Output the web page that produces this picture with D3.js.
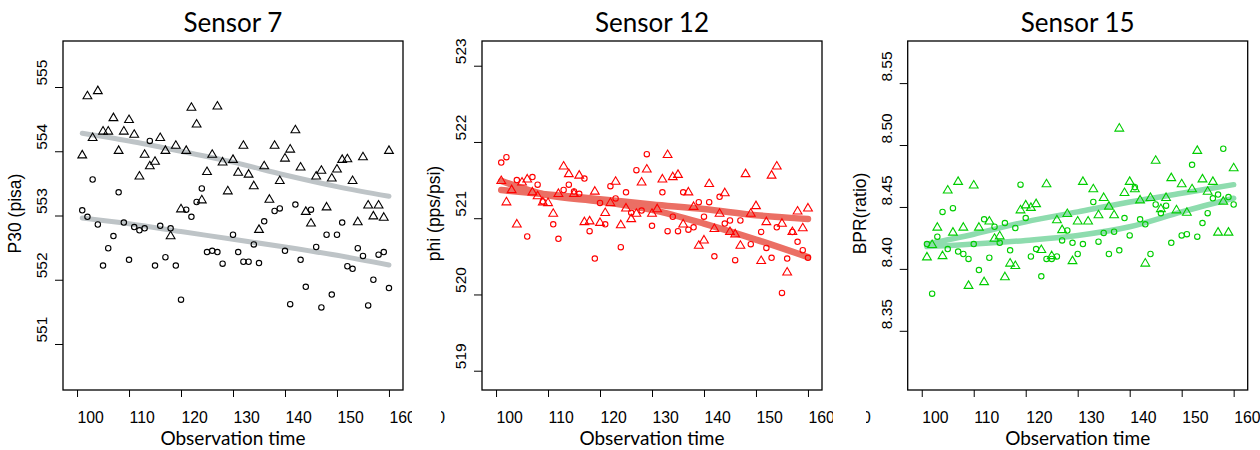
<!DOCTYPE html>
<html>
<head>
<meta charset="utf-8">
<title>Sensor plots</title>
<script src="https://cdn.jsdelivr.net/npm/d3@7"></script>
<style>
  body { margin: 0; background: #fff; }
  svg { display: block; }
</style>
</head>
<body>
<script>
var W = 1260, H = 450;

// observation times (x) for every point
var time = [101,102,103,104,105,106,107,108,109,110,
            111,112,113,114,115,116,117,118,119,120,
            121,122,123,124,125,126,127,128,129,130,
            131,132,133,134,135,136,137,138,139,140,
            141,142,143,144,145,146,147,148,149,150,
            151,152,153,154,155,156,157,158,159,160];
var xTicks = [100,110,120,130,140,150,160];
var smoothX = [101,110,120,130,140,150,160];

//// Sensor 7
var s7Tri = [553.95,554.87,554.22,554.95,554.32,554.32,554.53,554.02,554.32,554.50,
             554.27,553.62,553.96,553.78,553.85,554.22,554.02,552.69,554.10,553.11,
             554.02,554.69,554.43,553.25,553.69,553.96,554.71,553.84,553.39,553.88,
             553.68,554.10,553.65,553.47,552.79,553.78,553.26,554.10,553.55,553.90,
             554.04,554.34,553.76,553.07,552.89,553.62,553.71,553.14,553.59,553.73,
             553.88,553.89,553.55,552.91,553.92,553.17,553.00,553.17,552.98,554.02];
var s7Circ = [553.08,552.98,553.56,552.86,552.22,552.49,552.68,553.36,552.89,552.31,
              552.82,552.77,552.80,554.16,552.22,552.84,552.35,552.80,552.22,551.69,
              553.09,552.98,553.21,553.42,552.43,552.45,552.43,552.25,null,552.70,
              552.43,552.28,552.28,552.55,552.26,552.91,null,553.07,553.11,552.45,
              551.62,553.17,552.31,551.89,553.09,552.51,551.57,552.70,551.77,552.70,
              552.89,552.21,552.17,552.49,552.37,551.60,552.00,552.39,552.43,551.87];
var s7SmoothTri = [554.28,554.16,554.00,553.83,553.63,553.45,553.30];
var s7SmoothCirc = [552.96,552.87,552.75,552.63,552.51,552.38,552.23];
var s7YTicks = [551,552,553,554,555];

//// Sensor 12
var s12Tri = [521.50,521.22,521.38,520.93,521.48,521.52,521.35,521.30,521.22,521.21,
              521.07,521.33,521.69,521.59,521.33,521.57,520.96,520.97,521.36,520.95,
              521.08,521.21,521.49,520.92,521.14,521.00,521.07,521.48,521.65,521.07,
              521.13,521.52,521.84,521.55,521.58,520.93,521.35,521.16,520.65,520.72,
              521.46,520.87,521.07,521.34,520.83,520.80,520.65,521.59,521.07,521.17,
              520.45,520.96,521.57,521.69,520.94,520.30,520.83,521.10,520.88,521.14];
var s12Circ = [521.73,521.80,null,521.50,null,520.76,521.54,521.44,521.22,null,
               520.92,520.73,521.37,521.44,521.35,521.32,521.52,520.83,520.47,521.20,
               520.92,521.42,521.26,520.62,521.34,521.07,521.63,521.10,521.84,520.90,
               null,521.34,520.83,521.02,520.83,521.34,520.85,520.88,521.21,521.02,
               521.21,520.50,521.28,520.93,520.97,520.45,520.97,null,520.66,null,
               520.82,520.61,520.48,520.88,520.02,520.47,520.82,520.69,520.58,520.48];
var s12SmoothA = [521.37,521.31,521.25,521.18,521.12,521.04,520.99];
var s12SmoothB = [521.49,521.30,521.22,521.11,520.93,520.72,520.49];
var s12YTicks = [519,520,521,522,523];

//// Sensor 15
var s15Tri = [8.410,8.420,8.434,8.411,8.464,8.430,8.471,8.434,8.387,8.468,
              8.434,8.390,8.439,8.425,8.427,8.394,8.405,8.403,8.448,8.452,
              8.450,8.453,8.416,8.469,8.411,8.440,8.432,8.445,8.407,8.439,
              8.471,8.439,8.465,8.444,8.458,8.451,8.444,8.514,8.462,8.471,
              8.465,8.456,8.405,8.458,8.488,8.449,8.458,8.474,8.448,8.469,
              8.446,8.465,8.496,8.473,8.463,8.471,8.430,8.455,8.430,8.482];
var s15Circ = [8.420,8.380,8.426,8.446,8.416,8.449,8.414,8.412,8.408,8.420,
               8.399,8.440,8.409,8.434,8.421,8.437,8.415,8.433,8.468,8.441,
               8.410,8.416,8.394,8.408,8.408,8.410,8.423,8.431,8.421,8.412,
               8.420,null,8.454,8.422,8.429,8.412,8.430,8.415,8.441,8.427,
               8.466,8.440,8.436,8.412,8.452,8.445,8.451,8.421,null,8.427,
               8.428,8.484,8.426,8.437,8.445,8.457,8.460,8.497,8.458,8.452];
var s15SmoothUp = [8.420,8.428,8.438,8.446,8.454,8.461,8.468];
var s15SmoothLow = [8.418,8.420,8.423,8.427,8.434,8.446,8.457];
var s15YTicks = [8.35,8.40,8.45,8.50,8.55];

var panels = [
  { title: "Sensor 7", ylab: "P30 (pisa)", left: 63, clipL: 0, clipR: 412,
    ydom: [550.284, 555.716], yticks: s7YTicks, fmt: d3.format("d"),
    tri: s7Tri, circ: s7Circ, smooth: [s7SmoothTri, s7SmoothCirc],
    pt: "#000", line: "#bec4c7", lw: 5, frag: false },
  { title: "Sensor 12", ylab: "phi (pps/psi)", left: 482, clipL: 441, clipR: 833,
    ydom: [518.747, 523.324], yticks: s12YTicks, fmt: d3.format("d"),
    tri: s12Tri, circ: s12Circ, smooth: [s12SmoothA, s12SmoothB],
    pt: "#ff0000", line: "#eb6f64", lw: 6.5, frag: true },
  { title: "Sensor 15", ylab: "BPR(ratio)", left: 907.7, clipL: 866, clipR: 1260,
    ydom: [8.3022, 8.584], yticks: s15YTicks, fmt: d3.format(".2f"),
    tri: s15Tri, circ: s15Circ, smooth: [s15SmoothUp, s15SmoothLow],
    pt: "#00cd00", line: "#8edcae", lw: 5.5, frag: true }
];

var boxW = 340, plotTop = 41, plotBottom = 390;
var tickFont = "'Liberation Sans', Arial, sans-serif";

var svg = d3.select("body").append("svg")
  .attr("width", W).attr("height", H);

var triPath = "M0,-4.1L4.4,3.4L-4.4,3.4Z";

panels.forEach(function(p, k) {
  // clip only the x tick labels (the panels were cropped side by side)
  var clipId = "clip" + k;
  svg.append("clipPath").attr("id", clipId)
    .append("rect")
    .attr("x", p.clipL).attr("y", 0)
    .attr("width", p.clipR - p.clipL).attr("height", H);

  var g = svg.append("g");

  var x = d3.scaleLinear().domain([97.3, 162.7]).range([p.left, p.left + boxW]);
  var y = d3.scaleLinear().domain(p.ydom).range([plotBottom, plotTop]);

  //// smooth curves (under the points)
  var line = d3.line()
    .x(function(d, i) { return x(smoothX[i]); })
    .y(function(d) { return y(d); })
    .curve(d3.curveCatmullRom);
  p.smooth.forEach(function(s) {
    g.append("path")
      .attr("d", line(s))
      .attr("fill", "none")
      .attr("stroke", p.line)
      .attr("stroke-width", p.lw)
      .attr("stroke-linecap", "round");
  });

  //// points
  g.selectAll("path.tri")
    .data(p.tri)
    .enter()
    .append("path")
    .attr("class", "tri")
    .attr("d", triPath)
    .attr("transform", function(d, i) {
      return "translate(" + x(time[i]) + "," + y(d) + ")";
    })
    .attr("fill", "none")
    .attr("stroke", p.pt)
    .attr("stroke-width", 1.1);

  var circData = p.circ.map(function(d, i) { return { t: time[i], v: d }; })
    .filter(function(d) { return d.v !== null; });
  g.selectAll("circle.pt")
    .data(circData)
    .enter()
    .append("circle")
    .attr("class", "pt")
    .attr("cx", function(d) { return x(d.t); })
    .attr("cy", function(d) { return y(d.v); })
    .attr("r", 2.7)
    .attr("fill", "none")
    .attr("stroke", p.pt)
    .attr("stroke-width", 1.1);

  //// box
  g.append("rect")
    .attr("x", p.left).attr("y", plotTop)
    .attr("width", boxW).attr("height", plotBottom - plotTop)
    .attr("fill", "none")
    .attr("stroke", "#000")
    .attr("stroke-width", 1.3);

  //// x axis (labels sit just right of their ticks, as in the source)
  var xAxis = g.append("g")
    .attr("clip-path", "url(#" + clipId + ")")
    .attr("transform", "translate(0," + plotBottom + ")")
    .call(d3.axisBottom(x).tickValues(xTicks).tickSize(7)
      .tickFormat(d3.format("d")));
  xAxis.select(".domain").remove();
  xAxis.selectAll("text")
    .attr("y", 33).attr("dy", null)
    .attr("x", 0)
    .attr("text-anchor", "start")
    .attr("font-family", tickFont)
    .attr("font-size", "15.8px")
    .attr("fill", "#000");

  // left neighbour's cropped label (only its tail shows)
  if (p.frag) {
    g.append("text")
      .attr("clip-path", "url(#" + clipId + ")")
      .attr("x", x(100) - 51)
      .attr("y", 423)
      .attr("text-anchor", "end")
      .attr("font-family", tickFont)
      .attr("font-size", "15.8px")
      .text("90");
  }

  //// y axis (labels run upward from just above their ticks)
  var yAxis = g.append("g")
    .attr("transform", "translate(" + p.left + ",0)")
    .call(d3.axisLeft(y).tickValues(p.yticks).tickSize(8).tickFormat(p.fmt));
  yAxis.select(".domain").remove();
  yAxis.selectAll("text")
    .attr("x", null).attr("dy", null)
    .attr("transform", "translate(-16,-2) rotate(-90)")
    .attr("text-anchor", "start")
    .attr("font-family", tickFont)
    .attr("font-size", "15.5px")
    .attr("fill", "#000");

  //// titles
  g.append("text")
    .attr("x", p.left + boxW / 2)
    .attr("y", 32)
    .attr("text-anchor", "middle")
    .attr("font-family", "Lato, 'Open Sans', sans-serif")
    .attr("font-size", "26px")
    .text(p.title);

  g.append("text")
    .attr("x", p.left + boxW / 2)
    .attr("y", 445)
    .attr("text-anchor", "middle")
    .attr("font-family", "Lato, 'Open Sans', sans-serif")
    .attr("font-size", "19px")
    .text("Observation time");

  g.append("text")
    .attr("transform", "translate(" + (p.left - 42) + "," + ((plotTop + plotBottom) / 2 - 2) + ") rotate(-90)")
    .attr("text-anchor", "middle")
    .attr("font-family", tickFont)
    .attr("font-size", "17.5px")
    .text(p.ylab);
});
</script>
</body>
</html>
